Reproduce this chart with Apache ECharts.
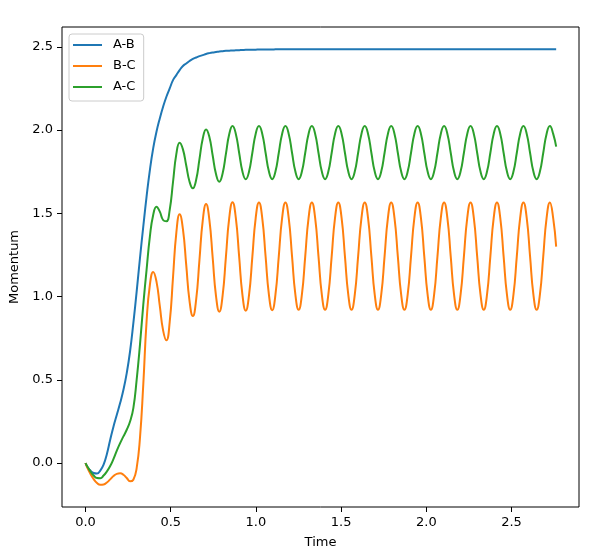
<!DOCTYPE html>
<html><head><meta charset="utf-8">
<script src="https://cdn.jsdelivr.net/npm/echarts@6/dist/echarts.min.js"></script>
<style>html,body{margin:0;padding:0;background:#fff}#c{width:597px;height:556px}</style>
</head><body><div id="c"></div>
<script>
const time = [0, 0.0091, 0.0285, 0.0479, 0.0673, 0.0867, 0.1061, 0.1255, 0.1449, 0.1643, 0.1837, 0.2031, 0.2225, 0.2419, 0.2613, 0.2807, 0.3001, 0.3195, 0.3389, 0.3583, 0.3777, 0.3971, 0.4165, 0.4359, 0.4553, 0.4747, 0.4941, 0.5135, 0.5329, 0.5523, 0.5717, 0.5911, 0.6105, 0.6299, 0.6493, 0.6687, 0.6881, 0.7075, 0.7269, 0.7463, 0.7657, 0.7851, 0.8045, 0.8239, 0.8433, 0.8627,
  0.8821, 0.9015, 0.9209, 0.9403, 0.9597, 0.9791, 0.9985, 1.0179, 1.0373, 1.0567, 1.0761, 1.0955, 1.1149, 1.1343, 1.1537, 1.1731, 1.1925, 1.2119, 1.2313, 1.2507, 1.2701, 1.2895, 1.3089, 1.3283, 1.3477, 1.3671, 1.3865, 1.4059, 1.4253, 1.4447, 1.4641, 1.4835, 1.5029, 1.5223, 1.5417, 1.5611, 1.5805, 1.5999, 1.6193, 1.6387, 1.6581, 1.6775, 1.6969, 1.7163, 1.7357, 1.7551, 1.7745, 1.7939, 1.8133, 1.8327, 1.8521, 1.8715, 1.8909, 1.9103, 1.9297, 1.9491, 1.9685, 1.9879, 2.0073, 2.0267, 2.0461, 2.0655, 2.0849, 2.1043, 2.1237, 2.1431, 2.1625, 2.1819, 2.2013, 2.2207, 2.2401, 2.2595, 2.2789, 2.2983, 2.3177, 2.3371, 2.3565, 2.3759, 2.3953, 2.4147, 2.4341, 2.4535, 2.4729, 2.4923, 2.5117, 2.5311, 2.5505, 2.5699, 2.5893, 2.6087, 2.6281, 2.6475, 2.6669, 2.6863, 2.7057, 2.7251, 2.7445, 2.762];

const momAB = [0, -0.02, -0.045, -0.06, -0.063, -0.045, -0.01, 0.055, 0.14, 0.22, 0.29, 0.36, 0.44, 0.54, 0.67, 0.84, 1.03, 1.23, 1.42, 1.60, 1.76, 1.89, 1.99, 2.07, 2.14, 2.20, 2.25, 2.30, 2.33, 2.36, 2.385, 2.40, 2.415, 2.427, 2.436, 2.444, 2.45, 2.457, 2.462, 2.466, 2.469, 2.472, 2.474, 2.476, 2.477, 2.478,
  2.479, 2.480, 2.481, 2.482, 2.482, 2.483, 2.483, 2.484,
  2.484, 2.484, 2.484, 2.484,
  2.485, 2.485, 2.485, 2.485, 2.485, 2.485, 2.485, 2.485, 2.485, 2.485,
  2.485, 2.485, 2.485, 2.485, 2.485, 2.485, 2.485, 2.485, 2.485, 2.485,
  2.485, 2.485, 2.485, 2.485, 2.485, 2.485, 2.485, 2.485, 2.485, 2.485,
  2.485, 2.485, 2.485, 2.485, 2.485, 2.485, 2.485, 2.485, 2.485, 2.485,
  2.485, 2.485, 2.485, 2.485, 2.485, 2.485, 2.485, 2.485, 2.485, 2.485,
  2.485, 2.485, 2.485, 2.485, 2.485, 2.485, 2.485, 2.485, 2.485, 2.485,
  2.485, 2.485, 2.485, 2.485, 2.485, 2.485, 2.485, 2.485, 2.485, 2.485,
  2.485, 2.485, 2.485, 2.485, 2.485, 2.485, 2.485, 2.485, 2.485, 2.485,
  2.485, 2.485, 2.485, 2.485, 2.485,
  2.485];

const momBC = [0, -0.025, -0.065, -0.097, -0.12, -0.131, -0.129, -0.117, -0.098, -0.078, -0.065, -0.062, -0.07, -0.09, -0.11, -0.10, -0.03, 0.15, 0.47, 0.85, 1.07, 1.148, 1.09, 0.944, 0.797, 0.737, 0.848, 1.116, 1.383, 1.494, 1.405, 1.189, 0.972, 0.883, 0.982, 1.22, 1.458, 1.556, 1.461, 1.233, 1.004, 0.909, 1.005, 1.238, 1.471, 1.567,
  1.472, 1.241, 1.010, 0.915, 1.010, 1.240, 1.470, 1.565, 1.470, 1.242, 1.013, 0.918, 1.014, 1.243, 1.471, 1.565,
  1.471, 1.243, 1.014, 0.92, 1.014, 1.243, 1.471, 1.565,
  1.471, 1.243, 1.014, 0.92, 1.014, 1.243, 1.471, 1.565,
  1.471, 1.243, 1.014, 0.92, 1.014, 1.243, 1.471, 1.565,
  1.471, 1.243, 1.014, 0.92, 1.014, 1.243, 1.471, 1.565,
  1.471, 1.243, 1.014, 0.92, 1.014, 1.243, 1.471, 1.565,
  1.471, 1.243, 1.014, 0.92, 1.014, 1.243, 1.471, 1.565,
  1.471, 1.243, 1.014, 0.92, 1.014, 1.243, 1.471, 1.565,
  1.471, 1.243, 1.014, 0.92, 1.014, 1.243, 1.471, 1.565,
  1.471, 1.243, 1.014, 0.92, 1.014, 1.243, 1.471, 1.565,
  1.471, 1.243, 1.014, 0.92, 1.014, 1.243, 1.471, 1.565,
  1.471, 1.30];

const momAC = [0, -0.018, -0.05, -0.075, -0.09, -0.091, -0.075, -0.05, -0.018, 0.025, 0.075, 0.12, 0.16, 0.20, 0.25, 0.33, 0.50, 0.71, 0.95, 1.16, 1.36, 1.49, 1.54, 1.51, 1.46, 1.452, 1.521, 1.688, 1.855, 1.924, 1.884, 1.787, 1.690, 1.65, 1.701, 1.825, 1.949, 2.004, 1.958, 1.847, 1.736, 1.69, 1.739, 1.857, 1.975, 2.024,
  1.977, 1.864, 1.751, 1.704, 1.751, 1.864, 1.977, 2.024,
  1.977, 1.864, 1.752, 1.705, 1.752, 1.864, 1.977, 2.024,
  1.977, 1.864, 1.752, 1.705, 1.752, 1.864, 1.977, 2.024,
  1.977, 1.864, 1.752, 1.705, 1.752, 1.864, 1.977, 2.024,
  1.977, 1.864, 1.752, 1.705, 1.752, 1.864, 1.977, 2.024,
  1.977, 1.864, 1.752, 1.705, 1.752, 1.864, 1.977, 2.024,
  1.977, 1.864, 1.752, 1.705, 1.752, 1.864, 1.977, 2.024,
  1.977, 1.864, 1.752, 1.705, 1.752, 1.864, 1.977, 2.024,
  1.977, 1.864, 1.752, 1.705, 1.752, 1.864, 1.977, 2.024,
  1.977, 1.864, 1.752, 1.705, 1.752, 1.864, 1.977, 2.024,
  1.977, 1.864, 1.752, 1.705, 1.752, 1.864, 1.977, 2.024,
  1.977, 1.864, 1.752, 1.705, 1.752, 1.864, 1.977, 2.024,
  1.977, 1.90];

const seriesNames = ['A-B', 'B-C', 'A-C'];
const seriesColors = ['#1f77b4', '#ff7f0e', '#2ca02c'];
const xTicks = [0, 0.5, 1.0, 1.5, 2.0, 2.5];
const yTicks = [0, 0.5, 1.0, 1.5, 2.0, 2.5];

const FONT = 'DejaVu Sans';
const chart = echarts.init(document.getElementById('c'), null, {renderer: 'canvas'});
const values = [momAB, momBC, momAC];

const axisCommon = {
  type: 'value',
  nameLocation: 'middle',
  nameTextStyle: {fontFamily: FONT, fontSize: 13, color: '#000'},
  axisLine: {show: false, onZero: false},
  splitLine: {show: false},
};

chart.setOption({
  animation: false,
  backgroundColor: '#fff',
  grid: {left: 62, right: 18, top: 27, bottom: 49, show: true, borderColor: '#000', borderWidth: 1, backgroundColor: 'transparent'},
  legend: {
    orient: 'vertical', left: 69, top: 34,
    icon: 'rect',
    itemWidth: 29, itemHeight: 2, itemGap: 7,
    padding: [4, 8, 7, 4],
    borderColor: '#cccccc', borderWidth: 1, borderRadius: 3,
    backgroundColor: 'rgba(255,255,255,0.8)',
    textStyle: {fontFamily: FONT, fontSize: 13, lineHeight: 14, color: '#000', padding: [0, 0, 0, 6]},
    data: seriesNames
  },
  xAxis: Object.assign({}, axisCommon, {
    min: -0.138, max: 2.896,
    name: 'Time', nameGap: 29,
    axisTick: {show: true, length: 5, lineStyle: {color: '#000'}, customValues: xTicks},
    axisLabel: {customValues: xTicks, formatter: v => v.toFixed(1), margin: 9, color: '#000', fontFamily: FONT, fontSize: 13}
  }),
  yAxis: Object.assign({}, axisCommon, {
    min: -0.264, max: 2.619,
    name: 'Momentum', nameGap: 36,
    axisTick: {show: true, length: 5, lineStyle: {color: '#000'}, customValues: yTicks},
    axisLabel: {customValues: yTicks, formatter: v => v.toFixed(1), margin: 9, color: '#000', fontFamily: FONT, fontSize: 13}
  }),
  series: seriesNames.map((n, s) => ({
    name: n,
    type: 'line',
    symbol: 'none',
    showSymbol: false,
    smooth: 0.5,
    color: seriesColors[s],
    lineStyle: {width: 2, color: seriesColors[s]},
    data: time.map((t, i) => [t, values[s][i]])
  }))
});
</script>
</body></html>
